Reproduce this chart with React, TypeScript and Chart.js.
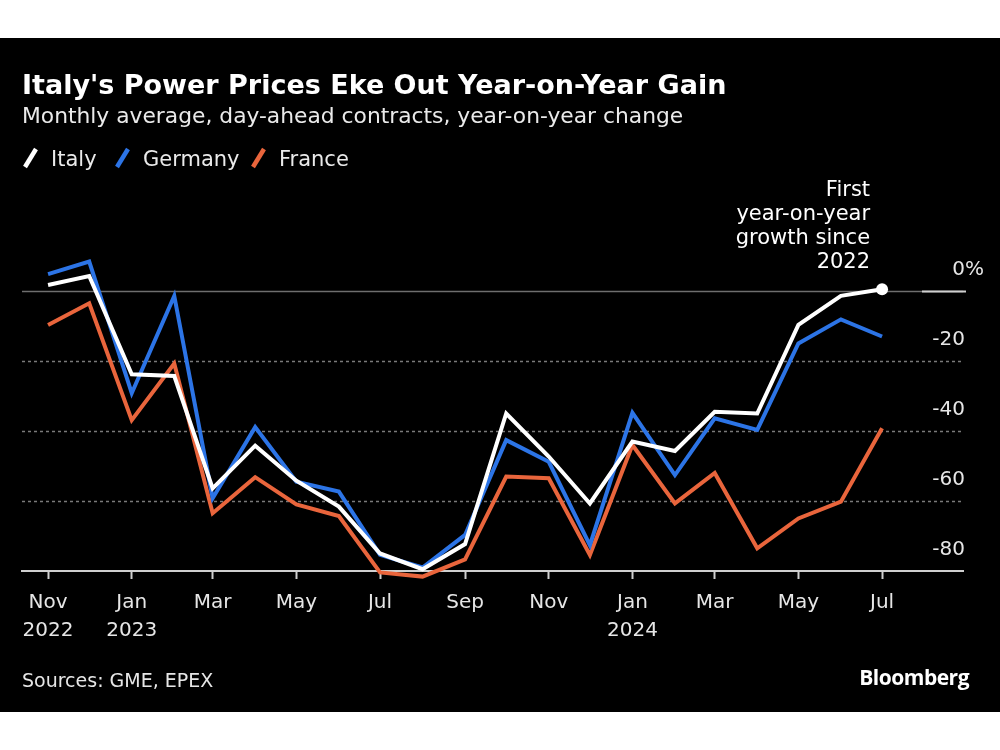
import React, { useEffect, useRef } from "react";
import { Chart, registerables } from "chart.js";

Chart.register(...registerables);

const months = ["2022-11","2022-12","2023-01","2023-02","2023-03","2023-04","2023-05","2023-06","2023-07","2023-08","2023-09","2023-10","2023-11","2023-12","2024-01","2024-02","2024-03","2024-04","2024-05","2024-06","2024-07"];
const italy = [1.7, 4.3, -23.8, -24.3, -56.4, -44.2, -54.2, -61.6, -75, -79.5, -72.3, -35, -47.3, -60.7, -43, -45.7, -34.5, -35, -9.7, -1.4, 0.5];
const germany = [4.8, 8.4, -29.2, -1.4, -59.2, -38.9, -54.5, -57.3, -75.4, -79, -69.7, -42.6, -48.8, -72.6, -34.8, -52.6, -36.4, -39.7, -15, -8.1, -13];
const france = [-9.7, -3.5, -36.9, -20.7, -63.5, -53.2, -61, -64.3, -80.4, -81.6, -76.7, -53, -53.5, -75.4, -44, -60.7, -52, -73.5, -65, -60.2, -39.2];

const tickMonths = ["2022-11","2023-01","2023-03","2023-05","2023-07","2023-09","2023-11","2024-01","2024-03","2024-05","2024-07"];
const tickLabels: (string | string[])[] = [["Nov","2022"],["Jan","2023"],"Mar","May","Jul","Sep","Nov",["Jan","2024"],"Mar","May","Jul"];
const yTicks = [0, -20, -40, -60, -80];
const annotationLines = ["First", "year-on-year", "growth since", "2022"];
const legendItems = [
  { name: "Italy", color: "#ffffff", icon: 22, text: 51 },
  { name: "Germany", color: "#2c74e6", icon: 114, text: 143 },
  { name: "France", color: "#e9653c", icon: 250, text: 279 },
];

const WHITE = "#ffffff";
const BLUE = "#2c74e6";
const ORANGE = "#e9653c";
const FONT = "'DejaVu Sans', sans-serif";

const dayOf = (m: string) => {
  const [y, mo] = m.split("-").map(Number);
  return (Date.UTC(y, mo - 1, 1) - Date.UTC(2022, 10, 1)) / 86400000;
};

const toPts = (vals: number[]) => vals.map((v, i) => ({ x: dayOf(months[i]), y: v }));

const gridPlugin = {
  id: "customGrid",
  beforeDatasetsDraw(chart: any) {
    const { ctx, chartArea, scales } = chart;
    const y = scales.y;
    ctx.save();
    yTicks.forEach((v) => {
      const py = Math.round(y.getPixelForValue(v)) + 0.5;
      if (v === -80) return;
      ctx.beginPath();
      if (v === 0) {
        ctx.strokeStyle = "#6e6e6e";
        ctx.lineWidth = 1.5;
        ctx.setLineDash([]);
      } else {
        ctx.strokeStyle = "#7a7a7a";
        ctx.lineWidth = 1.5;
        ctx.setLineDash([3, 3]);
      }
      ctx.moveTo(chartArea.left, py);
      ctx.lineTo(chartArea.right, py);
      ctx.stroke();
    });
    ctx.setLineDash([]);
    const p0 = Math.round(y.getPixelForValue(0)) + 0.5;
    ctx.strokeStyle = "#cfcfcf";
    ctx.lineWidth = 2;
    ctx.beginPath();
    ctx.moveTo(chartArea.right - 41, p0);
    ctx.lineTo(chartArea.right + 3, p0);
    ctx.stroke();
    ctx.restore();
  },
  afterDatasetsDraw(chart: any) {
    const { ctx, chartArea, scales } = chart;
    const y = scales.y;
    ctx.save();
    ctx.fillStyle = "#e6e6e6";
    ctx.font = `20px ${FONT}`;
    ctx.textBaseline = "middle";
    yTicks.forEach((v) => {
      const py = y.getPixelForValue(v) - 21;
      ctx.textAlign = "right";
      ctx.fillText(String(v), chartArea.right + 2, py);
      if (v === 0) {
        ctx.textAlign = "left";
        ctx.fillText("%", chartArea.right + 2, py);
      }
    });
    const meta = chart.getDatasetMeta(0);
    const last = meta.data[meta.data.length - 1];
    ctx.fillStyle = "#ffffff";
    ctx.font = `21px ${FONT}`;
    ctx.textAlign = "right";
    const n = annotationLines.length;
    annotationLines.forEach((t, i) => {
      ctx.fillText(t, last.x - 12, last.y - 27 - (n - 1 - i) * 24);
    });
    ctx.restore();
  },
};

export default function App() {
  const ref = useRef<HTMLCanvasElement>(null);
  useEffect(() => {
    document.body.style.margin = "0";
    const chart = new Chart(ref.current!, {
      type: "line",
      data: {
        datasets: [
          { label: "Italy", data: toPts(italy), borderColor: WHITE, backgroundColor: WHITE, borderWidth: 4,
            pointRadius: (c: any) => (c.dataIndex === italy.length - 1 ? 6 : 0),
            pointBackgroundColor: WHITE, pointBorderWidth: 0, clip: false, order: 0 },
          { label: "Germany", data: toPts(germany), borderColor: BLUE, borderWidth: 4, pointRadius: 0, clip: false, order: 1 },
          { label: "France", data: toPts(france), borderColor: ORANGE, borderWidth: 4, pointRadius: 0, clip: false, order: 2 },
        ],
      },
      options: {
        animation: false,
        responsive: false,
        devicePixelRatio: 1,
        layout: { padding: { left: 22, right: 37, top: 218, bottom: 41 } },
        plugins: { legend: { display: false }, tooltip: { enabled: false } },
        scales: {
          x: {
            type: "linear",
            min: -19,
            max: 667,
            afterBuildTicks: (s: any) => {
              s.ticks = tickMonths.map((m) => ({ value: dayOf(m) }));
            },
            afterFit: (s: any) => { s.height = 100; },
            grid: { drawOnChartArea: false, drawTicks: true, tickLength: 8, color: "#cfcfcf", tickWidth: 2 },
            border: { display: true, color: "#cfcfcf", width: 2 },
            ticks: {
              autoSkip: false,
              maxRotation: 0,
              padding: 10,
              color: "#e6e6e6",
              font: { family: FONT, size: 20, lineHeight: 1.4 },
              callback: (_v: any, i: number) => tickLabels[i],
            },
          },
          y: {
            display: false,
            min: -80,
            max: 10,
          },
        },
      },
      plugins: [gridPlugin],
    } as any);
    return () => chart.destroy();
  }, []);

  const txt: React.CSSProperties = { position: "absolute", left: 22, color: "#fff", fontFamily: FONT, whiteSpace: "nowrap" };
  return (
    <div style={{ position: "relative", width: 1000, height: 750, background: "#fff" }}>
      <div style={{ position: "absolute", top: 38, left: 0, width: 1000, height: 674, background: "#000" }}>
        <canvas ref={ref} width={1000} height={674} style={{ position: "absolute", left: 0, top: 0, width: 1000, height: 674 }} />
        <div style={{ ...txt, top: 31, fontSize: 27, lineHeight: "32px", fontWeight: "bold" }}>
          Italy's Power Prices Eke Out Year-on-Year Gain
        </div>
        <div style={{ ...txt, top: 64, fontSize: 21.8, lineHeight: "28px", color: "#eaeaea" }}>
          Monthly average, day-ahead contracts, year-on-year change
        </div>
        {legendItems.map((it) => (
          <React.Fragment key={it.name}>
            <svg width="18" height="24" style={{ position: "absolute", left: it.icon, top: 108 }}>
              <line x1="3" y1="21" x2="14" y2="3" stroke={it.color} strokeWidth="4.5" />
            </svg>
            <div style={{ ...txt, left: it.text, top: 107, fontSize: 21, lineHeight: "28px", color: "#eaeaea" }}>{it.name}</div>
          </React.Fragment>
        ))}
        <div style={{ ...txt, top: 628, fontSize: 19, lineHeight: "28px", color: "#e6e6e6" }}>
          Sources: GME, EPEX
        </div>
        <div style={{ position: "absolute", right: 31, top: 625, fontSize: 21, lineHeight: "28px", color: "#fff", fontWeight: "bold", fontFamily: "'Open Sans', 'Noto Sans', sans-serif", letterSpacing: -0.5 }}>
          Bloomberg
        </div>
      </div>
    </div>
  );
}
